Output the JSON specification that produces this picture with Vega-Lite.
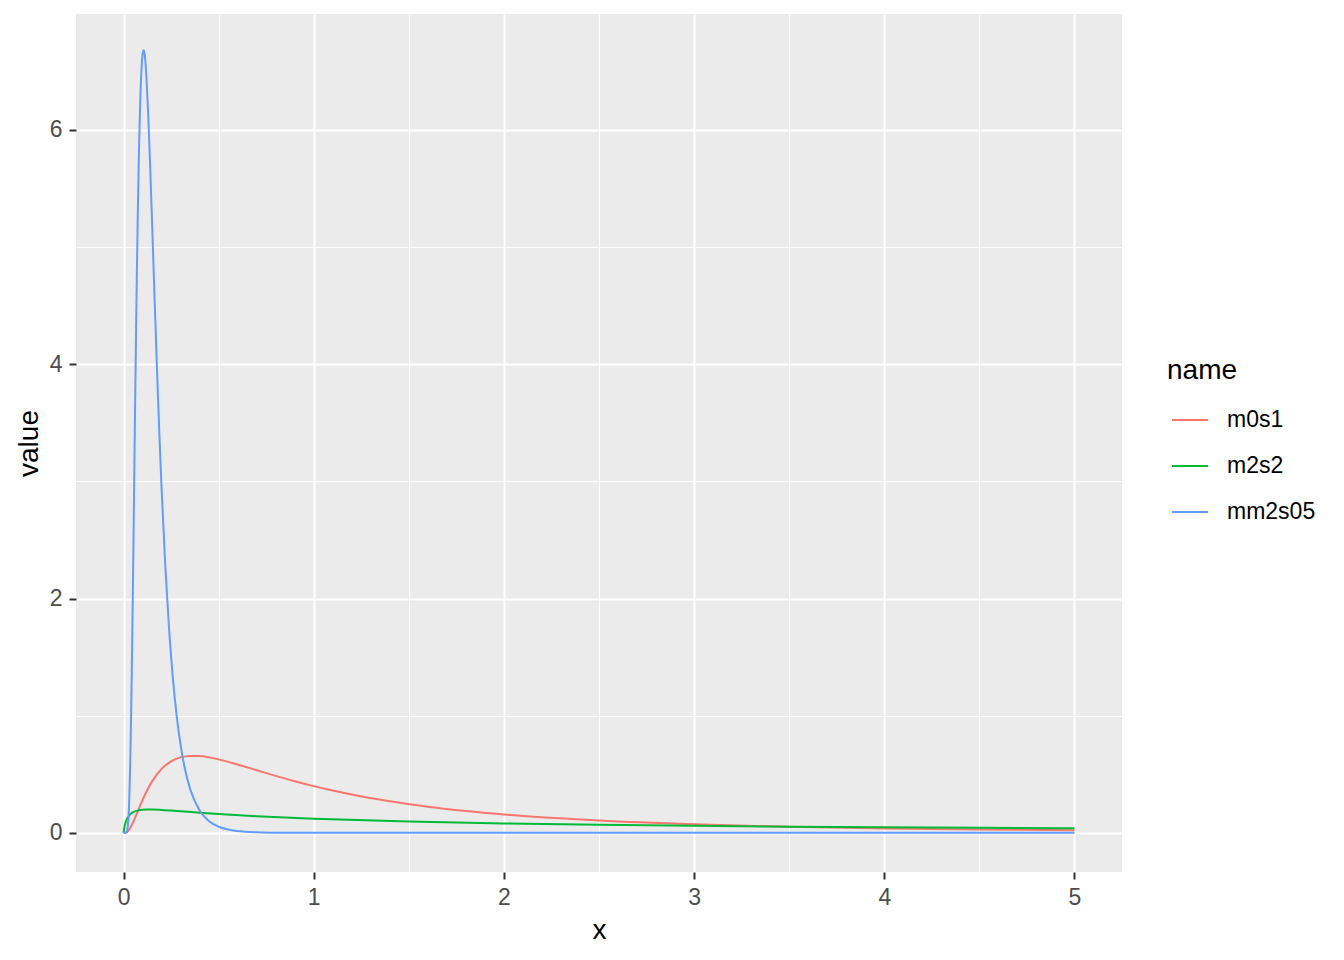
{
  "$schema": "https://vega.github.io/schema/vega-lite/v6.json",
  "width": 1046,
  "height": 858,
  "autosize": {"type": "none"},
  "padding": {"left": 76, "top": 14, "right": 222, "bottom": 88},
  "background": "white",
  "config": {
    "view": {"fill": "#EBEBEB", "stroke": null},
    "font": "Liberation Sans"
  },
  "data": {
    "values": [
      {"x": 0, "name": "m0s1", "value": 0},
      {"x": 0.01, "name": "m0s1", "value": 0.001},
      {"x": 0.02, "name": "m0s1", "value": 0.0095},
      {"x": 0.03, "name": "m0s1", "value": 0.0284},
      {"x": 0.04, "name": "m0s1", "value": 0.0561},
      {"x": 0.05, "name": "m0s1", "value": 0.0898},
      {"x": 0.06, "name": "m0s1", "value": 0.1271},
      {"x": 0.08, "name": "m0s1", "value": 0.2053},
      {"x": 0.1, "name": "m0s1", "value": 0.2815},
      {"x": 0.12, "name": "m0s1", "value": 0.351},
      {"x": 0.15, "name": "m0s1", "value": 0.4396},
      {"x": 0.2, "name": "m0s1", "value": 0.5463},
      {"x": 0.25, "name": "m0s1", "value": 0.6104},
      {"x": 0.3, "name": "m0s1", "value": 0.6442},
      {"x": 0.35, "name": "m0s1", "value": 0.657},
      {"x": 0.4, "name": "m0s1", "value": 0.6554},
      {"x": 0.45, "name": "m0s1", "value": 0.6445},
      {"x": 0.5, "name": "m0s1", "value": 0.6275},
      {"x": 0.6, "name": "m0s1", "value": 0.5836},
      {"x": 0.7, "name": "m0s1", "value": 0.5348},
      {"x": 0.8, "name": "m0s1", "value": 0.4864},
      {"x": 0.9, "name": "m0s1", "value": 0.4408},
      {"x": 1.0, "name": "m0s1", "value": 0.3989},
      {"x": 1.1, "name": "m0s1", "value": 0.361},
      {"x": 1.2, "name": "m0s1", "value": 0.3269},
      {"x": 1.4, "name": "m0s1", "value": 0.2693},
      {"x": 1.6, "name": "m0s1", "value": 0.2233},
      {"x": 1.8, "name": "m0s1", "value": 0.1865},
      {"x": 2.0, "name": "m0s1", "value": 0.1569},
      {"x": 2.5, "name": "m0s1", "value": 0.1049},
      {"x": 3.0, "name": "m0s1", "value": 0.0727},
      {"x": 3.5, "name": "m0s1", "value": 0.052},
      {"x": 4.0, "name": "m0s1", "value": 0.0381},
      {"x": 4.5, "name": "m0s1", "value": 0.0286},
      {"x": 5.0, "name": "m0s1", "value": 0.0219},

      {"x": 0, "name": "m2s2", "value": 0},
      {"x": 0.005, "name": "m2s2", "value": 0.0512},
      {"x": 0.01, "name": "m2s2", "value": 0.0854},
      {"x": 0.02, "name": "m2s2", "value": 0.1263},
      {"x": 0.03, "name": "m2s2", "value": 0.1501},
      {"x": 0.05, "name": "m2s2", "value": 0.1762},
      {"x": 0.08, "name": "m2s2", "value": 0.1927},
      {"x": 0.1, "name": "m2s2", "value": 0.1972},
      {"x": 0.12, "name": "m2s2", "value": 0.1992},
      {"x": 0.15, "name": "m2s2", "value": 0.1992},
      {"x": 0.2, "name": "m2s2", "value": 0.1957},
      {"x": 0.25, "name": "m2s2", "value": 0.1903},
      {"x": 0.3, "name": "m2s2", "value": 0.1843},
      {"x": 0.4, "name": "m2s2", "value": 0.1722},
      {"x": 0.5, "name": "m2s2", "value": 0.1611},
      {"x": 0.7, "name": "m2s2", "value": 0.1423},
      {"x": 1.0, "name": "m2s2", "value": 0.121},
      {"x": 1.5, "name": "m2s2", "value": 0.0968},
      {"x": 2.0, "name": "m2s2", "value": 0.0806},
      {"x": 2.5, "name": "m2s2", "value": 0.0689},
      {"x": 3.0, "name": "m2s2", "value": 0.0601},
      {"x": 3.5, "name": "m2s2", "value": 0.0532},
      {"x": 4.0, "name": "m2s2", "value": 0.0476},
      {"x": 4.5, "name": "m2s2", "value": 0.043},
      {"x": 5.0, "name": "m2s2", "value": 0.0391},

      {"x": 0, "name": "mm2s05", "value": 0},
      {"x": 0.01, "name": "mm2s05", "value": 0.0001},
      {"x": 0.015, "name": "mm2s05", "value": 0.0033},
      {"x": 0.02, "name": "mm2s05", "value": 0.0266},
      {"x": 0.025, "name": "mm2s05", "value": 0.106},
      {"x": 0.03, "name": "mm2s05", "value": 0.283},
      {"x": 0.035, "name": "mm2s05", "value": 0.589},
      {"x": 0.04, "name": "mm2s05", "value": 1.021},
      {"x": 0.045, "name": "mm2s05", "value": 1.571},
      {"x": 0.05, "name": "mm2s05", "value": 2.195},
      {"x": 0.055, "name": "mm2s05", "value": 2.867},
      {"x": 0.06, "name": "mm2s05", "value": 3.546},
      {"x": 0.065, "name": "mm2s05", "value": 4.186},
      {"x": 0.07, "name": "mm2s05", "value": 4.78},
      {"x": 0.075, "name": "mm2s05", "value": 5.299},
      {"x": 0.08, "name": "mm2s05", "value": 5.735},
      {"x": 0.085, "name": "mm2s05", "value": 6.09},
      {"x": 0.09, "name": "mm2s05", "value": 6.356},
      {"x": 0.095, "name": "mm2s05", "value": 6.538},
      {"x": 0.1, "name": "mm2s05", "value": 6.644},
      {"x": 0.105, "name": "mm2s05", "value": 6.68},
      {"x": 0.11, "name": "mm2s05", "value": 6.658},
      {"x": 0.115, "name": "mm2s05", "value": 6.58},
      {"x": 0.12, "name": "mm2s05", "value": 6.46},
      {"x": 0.13, "name": "mm2s05", "value": 6.118},
      {"x": 0.14, "name": "mm2s05", "value": 5.686},
      {"x": 0.15, "name": "mm2s05", "value": 5.208},
      {"x": 0.16, "name": "mm2s05", "value": 4.715},
      {"x": 0.17, "name": "mm2s05", "value": 4.23},
      {"x": 0.18, "name": "mm2s05", "value": 3.767},
      {"x": 0.19, "name": "mm2s05", "value": 3.336},
      {"x": 0.2, "name": "mm2s05", "value": 2.94},
      {"x": 0.22, "name": "mm2s05", "value": 2.261},
      {"x": 0.24, "name": "mm2s05", "value": 1.725},
      {"x": 0.26, "name": "mm2s05", "value": 1.308},
      {"x": 0.28, "name": "mm2s05", "value": 0.99},
      {"x": 0.3, "name": "mm2s05", "value": 0.749},
      {"x": 0.32, "name": "mm2s05", "value": 0.567},
      {"x": 0.35, "name": "mm2s05", "value": 0.3746},
      {"x": 0.4, "name": "mm2s05", "value": 0.1905},
      {"x": 0.45, "name": "mm2s05", "value": 0.0988},
      {"x": 0.5, "name": "mm2s05", "value": 0.0524},
      {"x": 0.55, "name": "mm2s05", "value": 0.0284},
      {"x": 0.6, "name": "mm2s05", "value": 0.0158},
      {"x": 0.7, "name": "mm2s05", "value": 0.0051},
      {"x": 0.8, "name": "mm2s05", "value": 0.0018},
      {"x": 1.0, "name": "mm2s05", "value": 0.0003},
      {"x": 2.0, "name": "mm2s05", "value": 0},
      {"x": 3.0, "name": "mm2s05", "value": 0},
      {"x": 4.0, "name": "mm2s05", "value": 0},
      {"x": 5.0, "name": "mm2s05", "value": 0}
    ]
  },
  "layer": [
    {
      "mark": {"type": "line", "strokeWidth": 0, "opacity": 0},
      "encoding": {
        "x": {"field": "x", "type": "quantitative", "scale": {"domain": [-0.25, 5.25], "nice": false, "zero": false},
          "axis": {"orient": "top", "values": [0.5, 1.5, 2.5, 3.5, 4.5], "grid": true, "gridColor": "white", "gridWidth": 1, "domain": false, "labels": false, "ticks": false, "title": null}},
        "y": {"field": "value", "type": "quantitative", "scale": {"domain": [-0.334, 6.99], "nice": false, "zero": false},
          "axis": {"orient": "right", "values": [1, 3, 5], "grid": true, "gridColor": "white", "gridWidth": 1, "domain": false, "labels": false, "ticks": false, "title": null}},
        "detail": {"field": "name"}
      }
    },
    {
      "mark": {"type": "line", "strokeWidth": 2, "interpolate": "monotone"},
      "encoding": {
        "x": {"field": "x", "type": "quantitative",
          "axis": {"orient": "bottom", "values": [0, 1, 2, 3, 4, 5], "grid": true, "gridColor": "white", "gridWidth": 2, "domain": false,
            "tickColor": "#333333", "tickSize": 7, "tickWidth": 2,
            "labelColor": "#4D4D4D", "labelFontSize": 23, "labelFont": "Liberation Sans", "labelPadding": 7,
            "title": "x", "titleFont": "Liberation Sans", "titleFontSize": 28, "titleFontWeight": "normal", "titleColor": "black", "titlePadding": 7}},
        "y": {"field": "value", "type": "quantitative",
          "axis": {"orient": "left", "values": [0, 2, 4, 6], "grid": true, "gridColor": "white", "gridWidth": 2, "domain": false,
            "tickColor": "#333333", "tickSize": 7, "tickWidth": 2,
            "labelColor": "#4D4D4D", "labelFontSize": 23, "labelFont": "Liberation Sans", "labelPadding": 7,
            "title": "value", "titleFont": "Liberation Sans", "titleFontSize": 28, "titleFontWeight": "normal", "titleColor": "black", "titlePadding": 6}},
        "color": {
          "field": "name", "type": "nominal",
          "scale": {"domain": ["m0s1", "m2s2", "mm2s05"], "range": ["#F8766D", "#00BA38", "#619CFF"]},
          "legend": {
            "orient": "none", "legendX": 1091, "legendY": 343,
            "title": "name", "titleFontSize": 28, "titleFontWeight": "normal", "titleColor": "black", "titleFont": "Liberation Sans",
            "titlePadding": 16,
            "symbolType": "stroke", "symbolSize": 1296, "symbolStrokeWidth": 2, "symbolOffset": 4,
            "labelFontSize": 23, "labelColor": "black", "labelFont": "Liberation Sans", "labelOffset": 18,
            "rowPadding": 15
          }
        }
      }
    }
  ],
  "resolve": {"axis": {"x": "independent", "y": "independent"}}
}
